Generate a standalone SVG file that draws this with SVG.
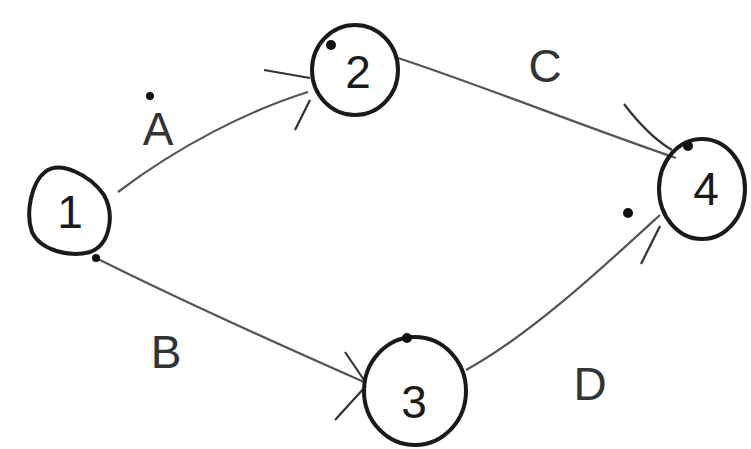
<svg xmlns="http://www.w3.org/2000/svg" width="751" height="449" viewBox="0 0 751 449">
<style>
.node{fill:none;stroke:#1a1a1a;stroke-width:4}
.num{font-family:"Liberation Sans",sans-serif;font-size:46px;fill:#1a1a1a;text-anchor:middle}
.edge{fill:none;stroke:#555;stroke-width:2.2}
.head{fill:none;stroke:#333;stroke-width:2.2}
.lbl{font-family:"Liberation Sans",sans-serif;font-size:46px;fill:#333;text-anchor:middle}
.dot{fill:#111}
</style>
<rect width="751" height="449" fill="#fff"/>
<g id="connectors">
<path class="edge" d="M118,192 C180,145 250,110 308,92"/>
<path class="head" d="M264,70 L310,78 M295,130 L310,100"/>
<path class="edge" d="M398,58 C480,85 580,125 676,158"/>
<path class="head" d="M624,104 C640,125 655,140 672,150"/>
<path class="edge" d="M96,258 C180,300 280,345 364,382"/>
<path class="head" d="M345,352 L364,380 M335,420 L366,386"/>
<path class="edge" d="M466,370 C530,335 600,270 660,215"/>
<path class="head" d="M641,264 L660,226"/>
</g>
<g id="node1">
<path class="node" d="M45,172 C60,160 90,175 104,195 C115,215 110,245 90,252 C70,258 40,250 32,232 C25,212 32,182 45,172 Z"/>
<text class="num" x="70" y="228">1</text>
</g>
<g id="node2">
<ellipse class="node" cx="355" cy="70" rx="43" ry="45"/>
<text class="num" x="358" y="88">2</text>
</g>
<g id="node3">
<ellipse class="node" cx="415" cy="391" rx="51" ry="54"/>
<text class="num" x="414" y="418">3</text>
</g>
<g id="node4">
<ellipse class="node" cx="702" cy="189" rx="43" ry="50"/>
<text class="num" x="706" y="205">4</text>
</g>
<g id="labels">
<text class="lbl" x="158" y="145">A</text>
<text class="lbl" x="166" y="368">B</text>
<text class="lbl" x="545" y="82">C</text>
<text class="lbl" x="590" y="400">D</text>
</g>
<g id="dots">
<circle class="dot" cx="150" cy="96" r="4"/>
<circle class="dot" cx="331" cy="45" r="5"/>
<circle class="dot" cx="688" cy="146" r="5"/>
<circle class="dot" cx="628" cy="213" r="5"/>
<circle class="dot" cx="96" cy="258" r="4"/>
<circle class="dot" cx="407" cy="338" r="5"/>
</g>
</svg>
